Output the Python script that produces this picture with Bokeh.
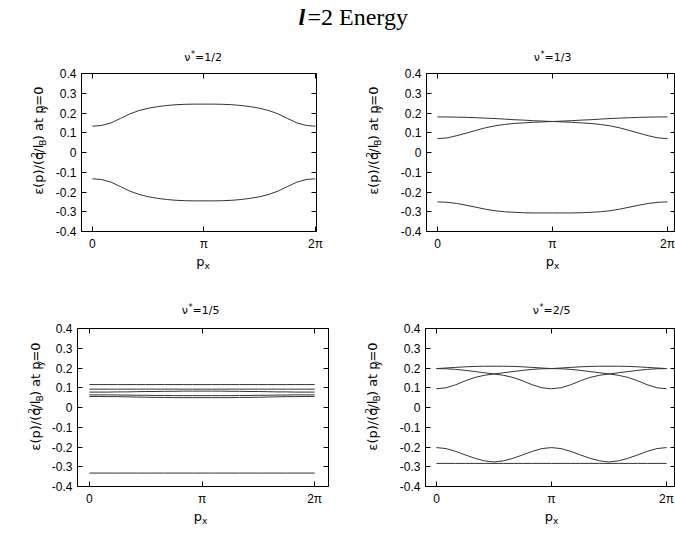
import numpy as np
from bokeh.plotting import figure
from bokeh.layouts import column, row
from bokeh.models import Label, LinearAxis, FixedTicker, Range1d
from bokeh.embed import file_html
from bokeh.resources import INLINE

SANS = "Liberation Sans"
LABEL_FONT = "DejaVu Sans"
SERIF = "Liberation Serif"
LINE_COLOR = "#333333"

# ---------------- data ----------------
# sample positions: multiples of pi/12 across one period [0, 2pi]
PX_STEPS = list(range(25))
px = [k * np.pi / 12 for k in PX_STEPS]

Y_TICKS = [-0.4, -0.3, -0.2, -0.1, 0, 0.1, 0.2, 0.3, 0.4]
Y_TICK_LABELS = ["-0.4", "-0.3", "-0.2", "-0.1", "0", "0.1", "0.2", "0.3", "0.4"]
X_TICKS = [0, np.pi, 2 * np.pi]
X_TICK_LABELS = ["0", "π", "2π"]

PANEL_FRACTIONS = ["1/2", "1/3", "1/5", "2/5"]

# nu* = 1/2
nu12_upper = [0.133, 0.137, 0.150, 0.172, 0.195, 0.212, 0.224, 0.232, 0.238, 0.242, 0.244, 0.245, 0.245,
              0.245, 0.244, 0.242, 0.238, 0.232, 0.224, 0.212, 0.195, 0.172, 0.150, 0.137, 0.133]
nu12_lower = [-0.133, -0.137, -0.150, -0.172, -0.195, -0.212, -0.224, -0.232, -0.238, -0.242, -0.244, -0.245, -0.245,
              -0.245, -0.244, -0.242, -0.238, -0.232, -0.224, -0.212, -0.195, -0.172, -0.150, -0.137, -0.133]

# nu* = 1/3
nu13_rising = [0.070, 0.074, 0.085, 0.098, 0.112, 0.125, 0.135, 0.142, 0.147, 0.150, 0.153, 0.155, 0.157,
               0.159, 0.161, 0.164, 0.166, 0.169, 0.172, 0.174, 0.176, 0.178, 0.179, 0.180, 0.180]
nu13_falling = [0.180, 0.180, 0.179, 0.178, 0.176, 0.174, 0.172, 0.169, 0.166, 0.164, 0.161, 0.159, 0.157,
                0.155, 0.153, 0.150, 0.147, 0.142, 0.135, 0.125, 0.112, 0.098, 0.085, 0.074, 0.070]
nu13_low = [-0.250, -0.252, -0.258, -0.267, -0.277, -0.287, -0.295, -0.300, -0.303, -0.305, -0.306, -0.306, -0.306,
            -0.306, -0.306, -0.305, -0.303, -0.300, -0.295, -0.287, -0.277, -0.267, -0.258, -0.252, -0.250]

# nu* = 1/5
nu15_b1 = [0.116, 0.116, 0.116, 0.116, 0.116, 0.116, 0.116, 0.116, 0.116, 0.116, 0.116, 0.116, 0.116,
           0.116, 0.116, 0.116, 0.116, 0.116, 0.116, 0.116, 0.116, 0.116, 0.116, 0.116, 0.116]
nu15_b2 = [0.093, 0.093, 0.093, 0.093, 0.093, 0.093, 0.093, 0.093, 0.093, 0.093, 0.093, 0.093, 0.093,
           0.093, 0.093, 0.093, 0.093, 0.093, 0.093, 0.093, 0.093, 0.093, 0.093, 0.093, 0.093]
nu15_b3 = [0.078, 0.078, 0.078, 0.079, 0.079, 0.080, 0.081, 0.081, 0.082, 0.082, 0.083, 0.083, 0.083,
           0.083, 0.083, 0.082, 0.082, 0.081, 0.081, 0.080, 0.079, 0.079, 0.078, 0.078, 0.078]
nu15_b4 = [0.064, 0.064, 0.064, 0.063, 0.063, 0.062, 0.062, 0.061, 0.061, 0.060, 0.060, 0.060, 0.060,
           0.060, 0.060, 0.060, 0.061, 0.061, 0.062, 0.062, 0.063, 0.063, 0.064, 0.064, 0.064]
nu15_b5 = [0.056, 0.056, 0.055, 0.055, 0.054, 0.053, 0.052, 0.051, 0.051, 0.050, 0.050, 0.050, 0.050,
           0.050, 0.050, 0.050, 0.051, 0.051, 0.052, 0.053, 0.054, 0.055, 0.055, 0.056, 0.056]
nu15_low = [-0.332, -0.332, -0.332, -0.332, -0.332, -0.332, -0.332, -0.332, -0.332, -0.332, -0.332, -0.332, -0.332,
            -0.332, -0.332, -0.332, -0.332, -0.332, -0.332, -0.332, -0.332, -0.332, -0.332, -0.332, -0.332]

# nu* = 2/5
nu25_top = [0.197, 0.200, 0.203, 0.206, 0.208, 0.209, 0.209, 0.209, 0.208, 0.206, 0.203, 0.200, 0.197,
            0.200, 0.203, 0.206, 0.208, 0.209, 0.209, 0.209, 0.208, 0.206, 0.203, 0.200, 0.197]
nu25_dip = [0.197, 0.196, 0.193, 0.188, 0.182, 0.176, 0.170, 0.163, 0.152, 0.135, 0.115, 0.100, 0.095,
            0.100, 0.115, 0.135, 0.152, 0.163, 0.170, 0.176, 0.182, 0.188, 0.193, 0.196, 0.197]
nu25_hump = [0.095, 0.100, 0.115, 0.135, 0.152, 0.163, 0.170, 0.176, 0.182, 0.188, 0.193, 0.196, 0.197,
             0.196, 0.193, 0.188, 0.182, 0.176, 0.170, 0.163, 0.152, 0.135, 0.115, 0.100, 0.095]
nu25_wave = [-0.203, -0.208, -0.222, -0.240, -0.257, -0.270, -0.276, -0.270, -0.257, -0.240, -0.222, -0.208, -0.203,
             -0.208, -0.222, -0.240, -0.257, -0.270, -0.276, -0.270, -0.257, -0.240, -0.222, -0.208, -0.203]
nu25_flat = [-0.283, -0.283, -0.283, -0.283, -0.283, -0.283, -0.283, -0.283, -0.283, -0.283, -0.283, -0.283, -0.283,
             -0.283, -0.283, -0.283, -0.283, -0.283, -0.283, -0.283, -0.283, -0.283, -0.283, -0.283, -0.283]

PANEL_CURVES = [
    [nu12_upper, nu12_lower],
    [nu13_rising, nu13_falling, nu13_low],
    [nu15_b1, nu15_b2, nu15_b3, nu15_b4, nu15_b5, nu15_low],
    [nu25_top, nu25_dip, nu25_hump, nu25_wave, nu25_flat],
]

# ---------------- layout geometry (pixels) ----------------
W = 675
S1_H, ROW_H, S2_H, S3_H = 68, 185, 70, 25
BORDER_TOP, BORDER_BOTTOM = 5, 20
# (label strip width, fig width, border left, border right, x_start, x_end, ylabel baseline x in strip)
GEOM = [
    (52, 285, 27, 21, -0.307, 6.311, 42),
    (52, 286, 37, 0, -0.300, 6.502, 40),
    (48, 289, 26, 9, -0.331, 6.669, 39),
    (52, 286, 36, 0, -0.300, 6.529, 39),
]


def style_axis(ax, ticks, labels, show_labels, standoff):
    ax.ticker = FixedTicker(ticks=ticks)
    if show_labels:
        ax.major_label_overrides = dict(zip(ticks, labels))
    else:
        ax.major_label_overrides = {t: "" for t in ticks}
    ax.axis_line_color = None
    ax.major_tick_in = 5
    ax.major_tick_out = 0
    ax.major_tick_line_color = "black"
    ax.major_tick_line_width = 1
    ax.minor_tick_line_color = None
    ax.major_label_text_font = SANS
    ax.major_label_text_font_size = "12px"
    ax.major_label_text_color = "black"
    ax.major_label_standoff = standoff if show_labels else 0


def make_panel(curves, width, bl, br, x_start, x_end):
    p = figure(width=width, height=ROW_H, output_backend="svg", toolbar_location=None, title=None,
               x_range=Range1d(x_start, x_end), y_range=Range1d(-0.4, 0.4),
               min_border_left=bl, min_border_right=br,
               min_border_top=BORDER_TOP, min_border_bottom=BORDER_BOTTOM)
    p.xgrid.visible = False
    p.ygrid.visible = False
    p.background_fill_color = "white"
    p.border_fill_color = "white"
    p.outline_line_color = "black"
    p.outline_line_alpha = 1.0
    p.outline_line_width = 1
    p.add_layout(LinearAxis(), "right")
    p.add_layout(LinearAxis(), "above")
    for ax in p.below:
        style_axis(ax, X_TICKS, X_TICK_LABELS, True, 5)
    for ax in p.above:
        style_axis(ax, X_TICKS, X_TICK_LABELS, False, 0)
    for ax in p.left:
        style_axis(ax, Y_TICKS, Y_TICK_LABELS, True, 5)
    for ax in p.right:
        style_axis(ax, Y_TICKS, Y_TICK_LABELS, False, 0)
    for ys in curves:
        p.line(px, ys, line_color=LINE_COLOR, line_width=1)
    return p


def text_strip(width, height):
    f = figure(width=width, height=height, output_backend="svg", toolbar_location=None, title=None,
               x_range=Range1d(0, width), y_range=Range1d(0, height),
               x_axis_location=None, y_axis_location=None, min_border=0)
    f.grid.visible = False
    f.outline_line_color = None
    f.background_fill_color = "white"
    f.border_fill_color = "white"
    return f


def put(f, x, y, text, size, font=LABEL_FONT, style="normal", angle=0.0):
    # the rendered baseline sits ~0.3 em below the anchor: compensate so (x, y) is the real baseline
    shift = (0.35 if font == SERIF else 0.30) * size
    if angle:
        x -= shift
    else:
        y += shift
    f.add_layout(Label(x=x, y=y, text=text, text_font=font, text_font_size=f"{size}px",
                       text_font_style=style, text_color="black", text_baseline="alphabetic",
                       text_align="left", angle=angle))


def add_panel_title(f, cx, base, frac):
    put(f, cx - 18.7, base, "ν", 11)
    put(f, cx - 12.0, base + 4, "*", 8)
    put(f, cx - 8.0, base, "=" + frac, 11)


def add_px_label(f, cx, base):
    put(f, cx - 6.8, base, "p", 13)
    put(f, cx + 1.6, base - 3, "x", 9)


def ylabel_strip(width, x_base, y_start):
    f = text_strip(width, ROW_H)
    # (text, size, shift across the baseline, advance along the text)
    pieces = [
        ("ε(p)/(q", 13, 0, 43.3),
        ("2", 9, -5, 6.0),
        ("/l", 13, 0, 8.2),
        ("B", 9, 3, 6.4),
        (") at p", 13, 0, 34.9),
        ("y", 9, 3, 5.5),
        ("=0", 13, 0, 19.2),
    ]
    y = y_start
    for txt, size, dx, w in pieces:
        put(f, x_base + dx, y, txt, size, angle=np.pi / 2)
        y += w
    return f


# x-position (page pixels) of px = pi in each panel
centers = []
row_left = 0
for i, (sw, fw, bl, br, xs, xe, _) in enumerate(GEOM):
    if i == 2:
        row_left = 0
    frame_left = row_left + sw + bl
    frame_w = fw - bl - br
    centers.append(frame_left + (np.pi - xs) / (xe - xs) * frame_w)
    row_left += sw + fw

# panels and their rotated y labels (label centred ~85 px above frame bottom)
panels = []
ystrips = []
for i, (sw, fw, bl, br, xs, xe, ylx) in enumerate(GEOM):
    panels.append(make_panel(PANEL_CURVES[i], fw, bl, br, xs, xe))
    ystrips.append(ylabel_strip(sw, ylx, BORDER_BOTTOM + (23 if i < 2 else 22)))

# strip 1: main title + top panel titles (baselines at page y 25 and 60)
s1 = text_strip(W, S1_H)
put(s1, 298, S1_H - 25, "l", 24, font=SERIF, style="bold italic")
put(s1, 307, S1_H - 25, "=2 Energy", 24, font=SERIF)
add_panel_title(s1, centers[0], S1_H - 60, PANEL_FRACTIONS[0])
add_panel_title(s1, centers[1], S1_H - 60, PANEL_FRACTIONS[1])

# strip 2 (page y 253-323): top p_x labels (baseline 265) + bottom panel titles (baseline 313)
s2 = text_strip(W, S2_H)
add_px_label(s2, centers[0], 323 - 265)
add_px_label(s2, centers[1], 323 - 265)
add_panel_title(s2, centers[2], 323 - 313, PANEL_FRACTIONS[2])
add_panel_title(s2, centers[3], 323 - 313, PANEL_FRACTIONS[3])

# strip 3 (page y 508-533): bottom p_x labels (baseline 520)
s3 = text_strip(W, S3_H)
add_px_label(s3, centers[2], 533 - 520)
add_px_label(s3, centers[3], 533 - 520)

layout = column(
    s1,
    row(ystrips[0], panels[0], ystrips[1], panels[1]),
    s2,
    row(ystrips[2], panels[2], ystrips[3], panels[3]),
    s3,
)

open("out.html", "w").write(file_html(layout, INLINE))
